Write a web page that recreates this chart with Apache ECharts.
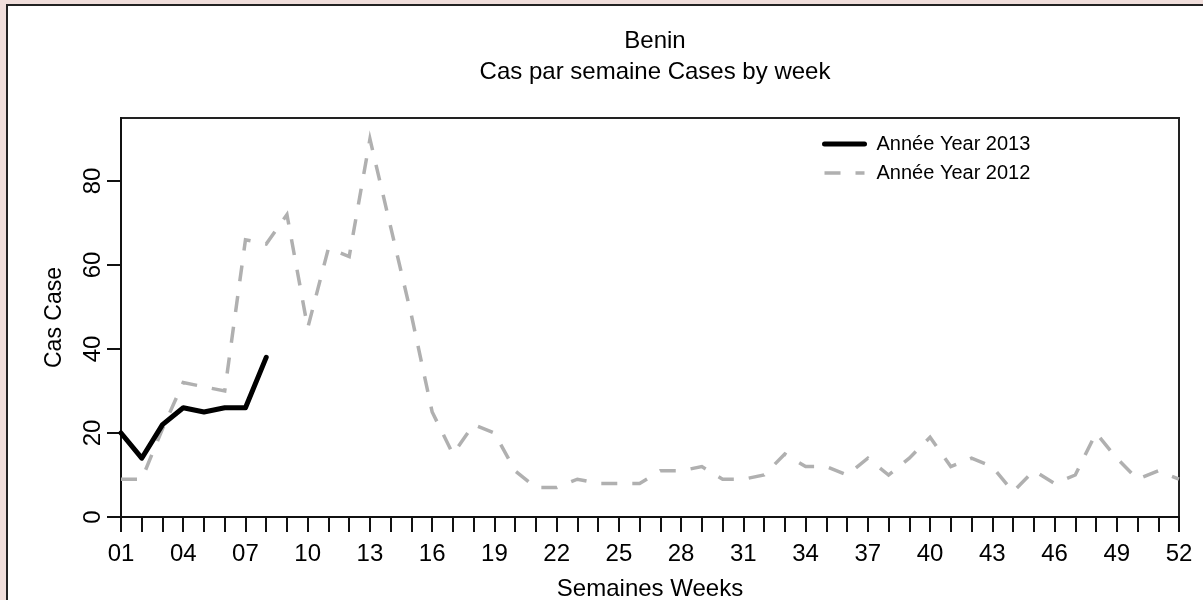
<!DOCTYPE html>
<html>
<head>
<meta charset="utf-8">
<script src="https://cdn.jsdelivr.net/npm/echarts@6/dist/echarts.min.js"></script>
<style>
html,body{margin:0;padding:0;background:#f0dedb;}
#c{width:1203px;height:600px;}
</style>
</head>
<body>
<div id="c"></div>
<script>
const titleMain = "Benin";
const titleSub = "Cas par semaine Cases by week";
const xName = "Semaines Weeks";
const yName = "Cas Case";
const weeks = Array.from({length: 52}, (_, i) => i + 1);
const xLabelWeeks = [1,4,7,10,13,16,19,22,25,28,31,34,37,40,43,46,49,52];
const yTicks = [0,20,40,60,80];
const name2013 = "Année Year 2013";
const name2012 = "Année Year 2012";
const weeks2013 = [1,2,3,4,5,6,7,8];
const cases2013 = [20,14,22,26,25,26,26,38];
const cases2012 = [9,9,21,32,31,30,66,65,72,45,64,62,90,69,48,25,15,22,20,11,7,7,9,8,8,8,11,11,12,9,9,10,15,12,12,10,14,10,14,19,12,14,12,6,11,8,10,20,14,9,11,9];

const FONT = "'Liberation Sans', Arial, sans-serif";
const chart = echarts.init(document.getElementById('c'), null, {renderer: 'canvas'});
const pad2 = v => (v < 10 ? '0' : '') + v;
const style2013 = {color: '#000', width: 5, cap: 'round', join: 'round'};
const style2012 = {color: '#b0b0b0', width: 3.5, type: [16, 15], cap: 'butt', join: 'miter'};

chart.setOption({
  backgroundColor: '#f0dedb',
  animation: false,
  graphic: [{
    type: 'rect', z: -10, silent: true,
    shape: {x: 7, y: 5, width: 1210, height: 610},
    style: {fill: '#ffffff', stroke: '#222222', lineWidth: 2}
  }],
  title: {
    text: titleMain + '\n' + titleSub,
    left: 650, top: 21, textAlign: 'center',
    textStyle: {fontFamily: FONT, fontSize: 24, fontWeight: 'normal', color: '#000', lineHeight: 31}
  },
  legend: {
    orient: 'vertical',
    left: 822, top: 134, padding: 0,
    itemWidth: 40, itemHeight: 20, itemGap: 9,
    itemStyle: {opacity: 0},
    textStyle: {fontFamily: FONT, fontSize: 20, color: '#000', padding: [0,0,0,7]},
    data: [
      {name: name2013, lineStyle: {width: 5, color: '#000', cap: 'round'}},
      {name: name2012, lineStyle: {width: 3.5, color: '#b0b0b0', type: [16, 15]}}
    ]
  },
  grid: {
    left: 121, right: 24, top: 118, bottom: 83,
    outerBoundsMode: 'none', containLabel: false,
    show: true, borderColor: '#222', borderWidth: 2, backgroundColor: 'transparent'
  },
  xAxis: {
    type: 'value', min: 1, max: 52,
    name: xName, nameLocation: 'middle', nameGap: 60,
    nameTextStyle: {fontFamily: FONT, fontSize: 24, color: '#000'},
    axisLine: {show: true, onZero: false, lineStyle: {color: '#111', width: 2}},
    axisTick: {show: true, inside: false, length: 15, lineStyle: {color: '#111', width: 2}, customValues: weeks},
    axisLabel: {show: true, margin: 25, fontFamily: FONT, fontSize: 24, color: '#000',
      customValues: xLabelWeeks, formatter: v => pad2(v), hideOverlap: false, showMinLabel: true, showMaxLabel: true},
    splitLine: {show: false}
  },
  yAxis: {
    type: 'value', min: 0, max: 95,
    name: yName, nameLocation: 'middle', nameGap: 55, nameRotate: 90,
    nameTextStyle: {fontFamily: FONT, fontSize: 23, color: '#000'},
    axisLine: {show: true, lineStyle: {color: '#111', width: 2}},
    axisTick: {show: true, inside: false, length: 14, lineStyle: {color: '#111', width: 2}, customValues: yTicks},
    axisLabel: {show: true, margin: 16, rotate: 90, fontFamily: FONT, fontSize: 24, color: '#000', customValues: yTicks},
    splitLine: {show: false}
  },
  series: [
    {
      name: name2013, type: 'line', symbol: 'none', z: 3,
      data: weeks2013.map((w, i) => [w, cases2013[i]]),
      lineStyle: style2013,
      itemStyle: {color: '#000'}
    },
    {
      name: name2012, type: 'line', symbol: 'none', z: 2,
      data: weeks.map((w, i) => [w, cases2012[i]]),
      lineStyle: style2012,
      itemStyle: {color: '#b0b0b0'}
    }
  ]
});
</script>
</body>
</html>
